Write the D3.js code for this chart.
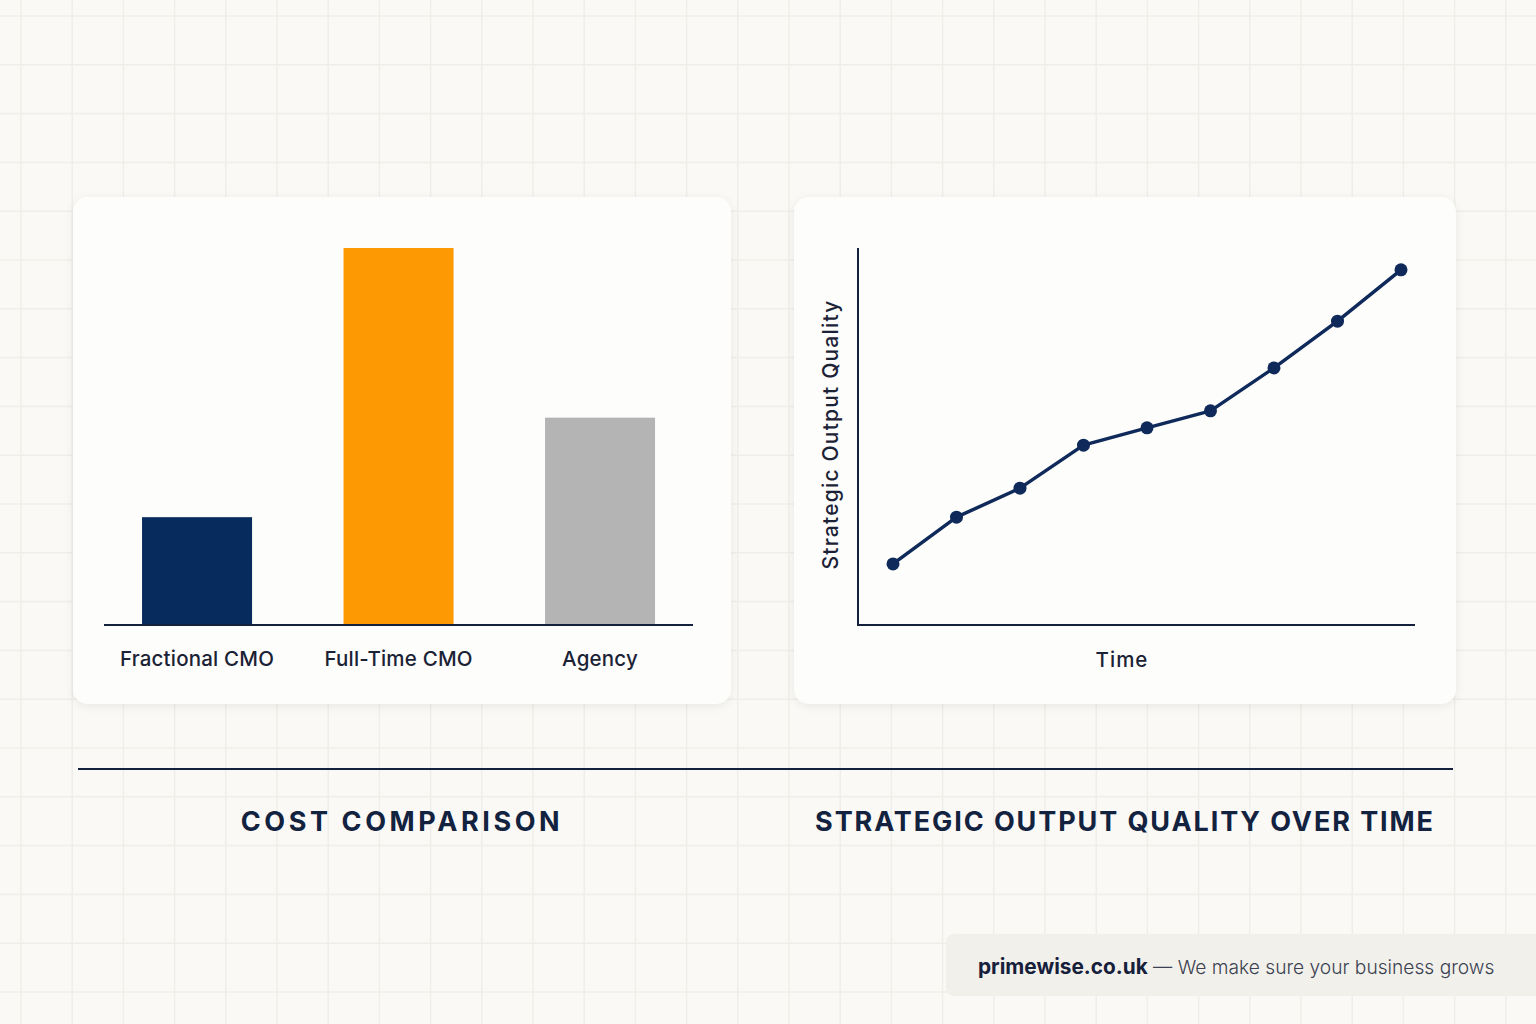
<!DOCTYPE html>
<html><head><meta charset="utf-8">
<script src="https://cdn.jsdelivr.net/npm/d3@7"></script>
<style>
html,body{margin:0;padding:0;background:#faf9f6;}
svg{display:block;font-family:Inter,"Noto Sans",sans-serif;}
</style></head>
<body>
<svg id="c" width="1536" height="1024"></svg>
<script>
const barCategories = ["Fractional CMO", "Full-Time CMO", "Agency"];
const barValues = [28.6, 100, 55];
const barColors = ["#062b5c", "#fd9903", "#b4b4b4"];
const timeIndex = [0, 1, 2, 3, 4, 5, 6, 7, 8];
const qualityValues = [16.2, 28.6, 36.3, 47.7, 52.3, 56.8, 68.2, 80.6, 94.2];
const titles = ["COST COMPARISON", "STRATEGIC OUTPUT QUALITY OVER TIME"];
const footerBrand = "primewise.co.uk";
const footerTag = " — We make sure your business grows";

const svg = d3.select("#c");
const navy = "#14213d";
const ink = "#1b2236";

// background grid
const grid = svg.append("g");
d3.range(21, 1536, 51.2).forEach(x => grid.append("line").attr("x1", x).attr("x2", x).attr("y1", 0).attr("y2", 1024).attr("stroke", "#f0eee9").attr("stroke-width", 1.5));
d3.range(16, 1024, 48.8).forEach(y => grid.append("line").attr("y1", y).attr("y2", y).attr("x1", 0).attr("x2", 1536).attr("stroke", "#f0eee9").attr("stroke-width", 1.5));

// shadow
const defs = svg.append("defs");
const f = defs.append("filter").attr("id", "sh").attr("x", "-10%").attr("y", "-10%").attr("width", "120%").attr("height", "130%");
f.append("feDropShadow").attr("dx", 0).attr("dy", 2).attr("stdDeviation", 5).attr("flood-color", "#000").attr("flood-opacity", 0.07);

// cards
[[73, 197, 658, 507], [794, 197, 662, 507]].forEach(([x, y, w, h]) => {
  svg.append("rect").attr("x", x).attr("y", y).attr("width", w).attr("height", h).attr("rx", 15)
    .attr("fill", "#fdfdfb").attr("filter", "url(#sh)");
});

// bar chart
const xb = d3.scaleBand().domain(barCategories).range([96.3, 700.8]).paddingInner(0.454).paddingOuter(0.227);
const yb = d3.scaleLinear().domain([0, 100]).range([625, 248]);
svg.append("g").selectAll("rect").data(barCategories).join("rect")
  .attr("x", d => xb(d)).attr("width", xb.bandwidth())
  .attr("y", (d, i) => yb(barValues[i])).attr("height", (d, i) => yb(0) - yb(barValues[i]))
  .attr("fill", (d, i) => barColors[i]);
const xAxisB = svg.append("g").attr("transform", "translate(0,625)")
  .call(d3.axisBottom(xb).tickSize(0).tickPadding(26));
xAxisB.select(".domain").attr("d", "M104,0H693").attr("stroke", navy).attr("stroke-width", 2);
xAxisB.selectAll("text").attr("font-size", 20.5).attr("fill", ink).attr("font-family", "Inter,sans-serif").attr("font-weight", 500).attr("letter-spacing", 0.2);

// line chart
const xl = d3.scaleLinear().domain([0, 8]).range([893, 1401]);
const yl = d3.scaleLinear().domain([0, 100]).range([625, 248]);
svg.append("line").attr("x1", 858).attr("x2", 858).attr("y1", 248).attr("y2", 626).attr("stroke", navy).attr("stroke-width", 2);
svg.append("line").attr("x1", 857).attr("x2", 1415).attr("y1", 625).attr("y2", 625).attr("stroke", navy).attr("stroke-width", 2);
svg.append("path").datum(timeIndex)
  .attr("d", d3.line().x(d => xl(d)).y((d, i) => yl(qualityValues[i])))
  .attr("fill", "none").attr("stroke", "#0f2a5a").attr("stroke-width", 3.5).attr("stroke-linejoin", "round");
svg.append("g").selectAll("circle").data(timeIndex).join("circle")
  .attr("cx", d => xl(d)).attr("cy", (d, i) => yl(qualityValues[i])).attr("r", 6.5).attr("fill", "#0f2a5a");
svg.append("text").attr("x", 1122).attr("y", 666.5).attr("text-anchor", "middle").attr("font-size", 20.5).attr("font-weight", 500).attr("letter-spacing", 1).attr("fill", ink).text("Time");
svg.append("text").attr("transform", "translate(837.5,434.5) rotate(-90)").attr("text-anchor", "middle").attr("font-size", 21).attr("font-weight", 500).attr("letter-spacing", 1.2).attr("fill", ink).text("Strategic Output Quality");

// divider
svg.append("line").attr("x1", 78).attr("x2", 1453).attr("y1", 769).attr("y2", 769).attr("stroke", navy).attr("stroke-width", 1.8);

// titles
[[402, titles[0], 3.6], [1125, titles[1], 1.9]].forEach(([x, t, ls]) => {
  svg.append("text").attr("x", x).attr("y", 831).attr("text-anchor", "middle").attr("font-size", 27).attr("font-weight", 700)
    .attr("letter-spacing", ls).attr("fill", "#12223f").text(t);
});

// footer
svg.append("rect").attr("x", 946).attr("y", 934).attr("width", 610).attr("height", 62).attr("rx", 8).attr("fill", "#f2f0eb");
const ft = svg.append("text").attr("x", 978).attr("y", 974);
ft.append("tspan").attr("font-size", 20.8).attr("font-weight", 700).attr("fill", "#16203a").text(footerBrand);
ft.append("tspan").attr("font-size", 19.2).attr("font-weight", 300).attr("fill", "#3b4252").text(footerTag);
</script>
</body></html>
